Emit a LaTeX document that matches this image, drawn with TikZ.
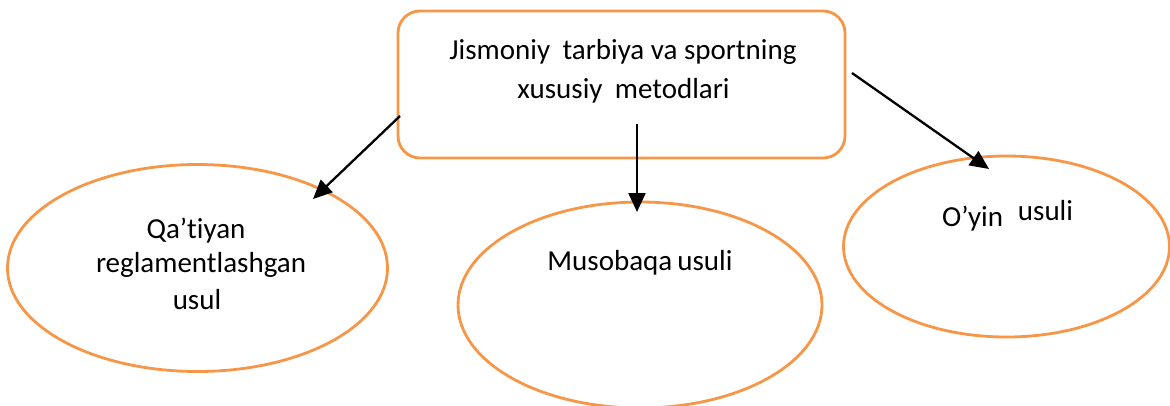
\documentclass[tikz,border=0pt]{standalone}
\usepackage{fontspec}
\setmainfont[Ligatures={NoCommon}]{Carlito}
\usetikzlibrary{shapes.geometric,arrows.meta}
\definecolor{accent}{HTML}{F79646}
\tikzset{
  shapeline/.style={draw=accent, line width=2.8pt},
  ellnode/.style={shapeline, ellipse, inner sep=0pt},
  txt/.style={anchor=base, inner sep=0pt, font=\fontsize{29}{34}\selectfont},
  conn/.style={line width=2.3pt, -{Triangle[length=19pt,width=17pt]}}
}
\begin{document}
\begin{tikzpicture}[x=1pt,y=-1pt]
\useasboundingbox (0,0) rectangle (1170,405);
% top box
\node[shapeline, rounded corners=22pt, minimum width=447pt, minimum height=147pt] (top) at (621.5,84.5) {};
\node[txt] (t1) at (623,59) {Jismoniy\hspace{0.2em} tarbiya va sportning};
\node[txt] (t2) at (623.5,98) {xususiy\hspace{0.2em} metodlari};
% ellipses
\node[ellnode, minimum width=380pt, minimum height=207pt] (eL) at (197.5,268) {};
\node[ellnode, minimum width=364pt, minimum height=206pt] (eM) at (640,305) {};
\node[ellnode, minimum width=326pt, minimum height=181pt] (eR) at (1006.5,246.5) {};
% texts
\node[txt] (l1) at (196,238) {Qa’tiyan};
\node[txt] (l2) at (201,272) {reglamentlashgan};
\node[txt] (l3) at (197,309) {usul};
\node[txt] (m1) at (640,270) {Musobaqa\hspace{-0.05em} usuli};
\node[txt] (r1) at (972.5,226) {O’yin};
\node[txt] (r2) at (1045.5,220) {usuli};
% connectors
\coordinate (sL) at (400,116);
\coordinate (tL) at (313,199);
\coordinate (sM) at (637,124);
\coordinate (tM) at (637,212);
\coordinate (sR) at (852,73);
\coordinate (tR) at (989,169);
\draw[conn] (sL) -- (tL);
\draw[conn] (sM) -- (tM);
\draw[conn] (sR) -- (tR);
\end{tikzpicture}
\end{document}
